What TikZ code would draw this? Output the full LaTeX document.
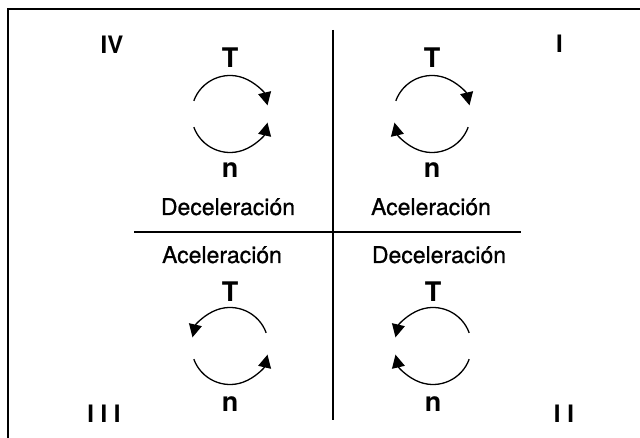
\documentclass[tikz,border=0pt]{standalone}
\usepackage{fontspec}
\setmainfont{TeX Gyre Heros}
\newfontfamily\medfont{TeX Gyre Heros}[FakeBold=0.8]
\usetikzlibrary{arrows.meta, positioning}

\begin{document}
\begin{tikzpicture}[
    x=1pt, y=1pt,
    quad/.style={anchor=base, inner sep=0pt, font=\fontsize{24}{28}\selectfont\bfseries},
    lbl/.style={anchor=base, inner sep=0pt, font=\fontsize{27}{32}\selectfont\bfseries},
    mode/.style={anchor=base, inner sep=0pt, font=\fontsize{23}{28}\selectfont\medfont},
    arr/.style={-{Triangle[length=13pt, width=13pt]}, line width=1.3pt},
    axis/.style={line width=2.4pt},
  ]
  \useasboundingbox (0,0) rectangle (640,438);
  % frame
  \draw[line width=2pt] (8,-5) -- (8,429) -- (645,429);
  % axes
  \coordinate (vtop) at (333,408);
  \coordinate (vbot) at (333,18);
  \coordinate (hleft) at (134,206);
  \coordinate (hright) at (521,206);
  \draw[axis] (vtop) -- (vbot);
  \draw[axis] (hleft) -- (hright);
  % circle centres
  \coordinate (cIV) at (230,324);
  \coordinate (cI) at (432,324);
  \coordinate (cIII) at (230,92);
  \coordinate (cII) at (433,92);
  % quadrant numbers
  \node[quad] (qIV) at (112,384) {IV};
  \node[quad] (qI) at (559.5,385) {I};
  \node[quad] (qIII) at (104,15) {I I I};
  \node[quad] (qII) at (564,15) {I I};
  % T and n
  \node[lbl] (tIV) at ([yshift=46pt]cIV) {T};
  \node[lbl] (nIV) at ([yshift=-64pt]cIV) {n};
  \node[lbl] (tI) at ([yshift=46pt]cI) {T};
  \node[lbl] (nI) at ([yshift=-64pt]cI) {n};
  \node[lbl] (tIII) at ([yshift=44pt]cIII) {T};
  \node[lbl] (nIII) at ([yshift=-66pt]cIII) {n};
  \node[lbl] (tII) at ([yshift=44pt]cII) {T};
  \node[lbl] (nII) at ([yshift=-66pt]cII) {n};
  % operating modes
  \node[mode] (mIV) at (228,223) {Deceleración};
  \node[mode] (mI) at (431,223) {Aceleración};
  \node[mode] (mIII) at (222,175) {Aceleración};
  \node[mode] (mII) at (439,175) {Deceleración};
  % rotation arrows
  \draw[arr] (cIV) ++(160:38.5) arc[start angle=160, end angle=13, radius=38.5];
  \draw[arr] (cIV) ++(200:38.5) arc[start angle=200, end angle=347, radius=38.5];
  \draw[arr] (cI) ++(160:38.5) arc[start angle=160, end angle=13, radius=38.5];
  \draw[arr] (cI) ++(340:38.5) arc[start angle=340, end angle=193, radius=38.5];
  \draw[arr] (cIII) ++(20:38.5) arc[start angle=20, end angle=167, radius=38.5];
  \draw[arr] (cIII) ++(200:38.5) arc[start angle=200, end angle=347, radius=38.5];
  \draw[arr] (cII) ++(20:38.5) arc[start angle=20, end angle=167, radius=38.5];
  \draw[arr] (cII) ++(340:38.5) arc[start angle=340, end angle=193, radius=38.5];
\end{tikzpicture}
\end{document}
